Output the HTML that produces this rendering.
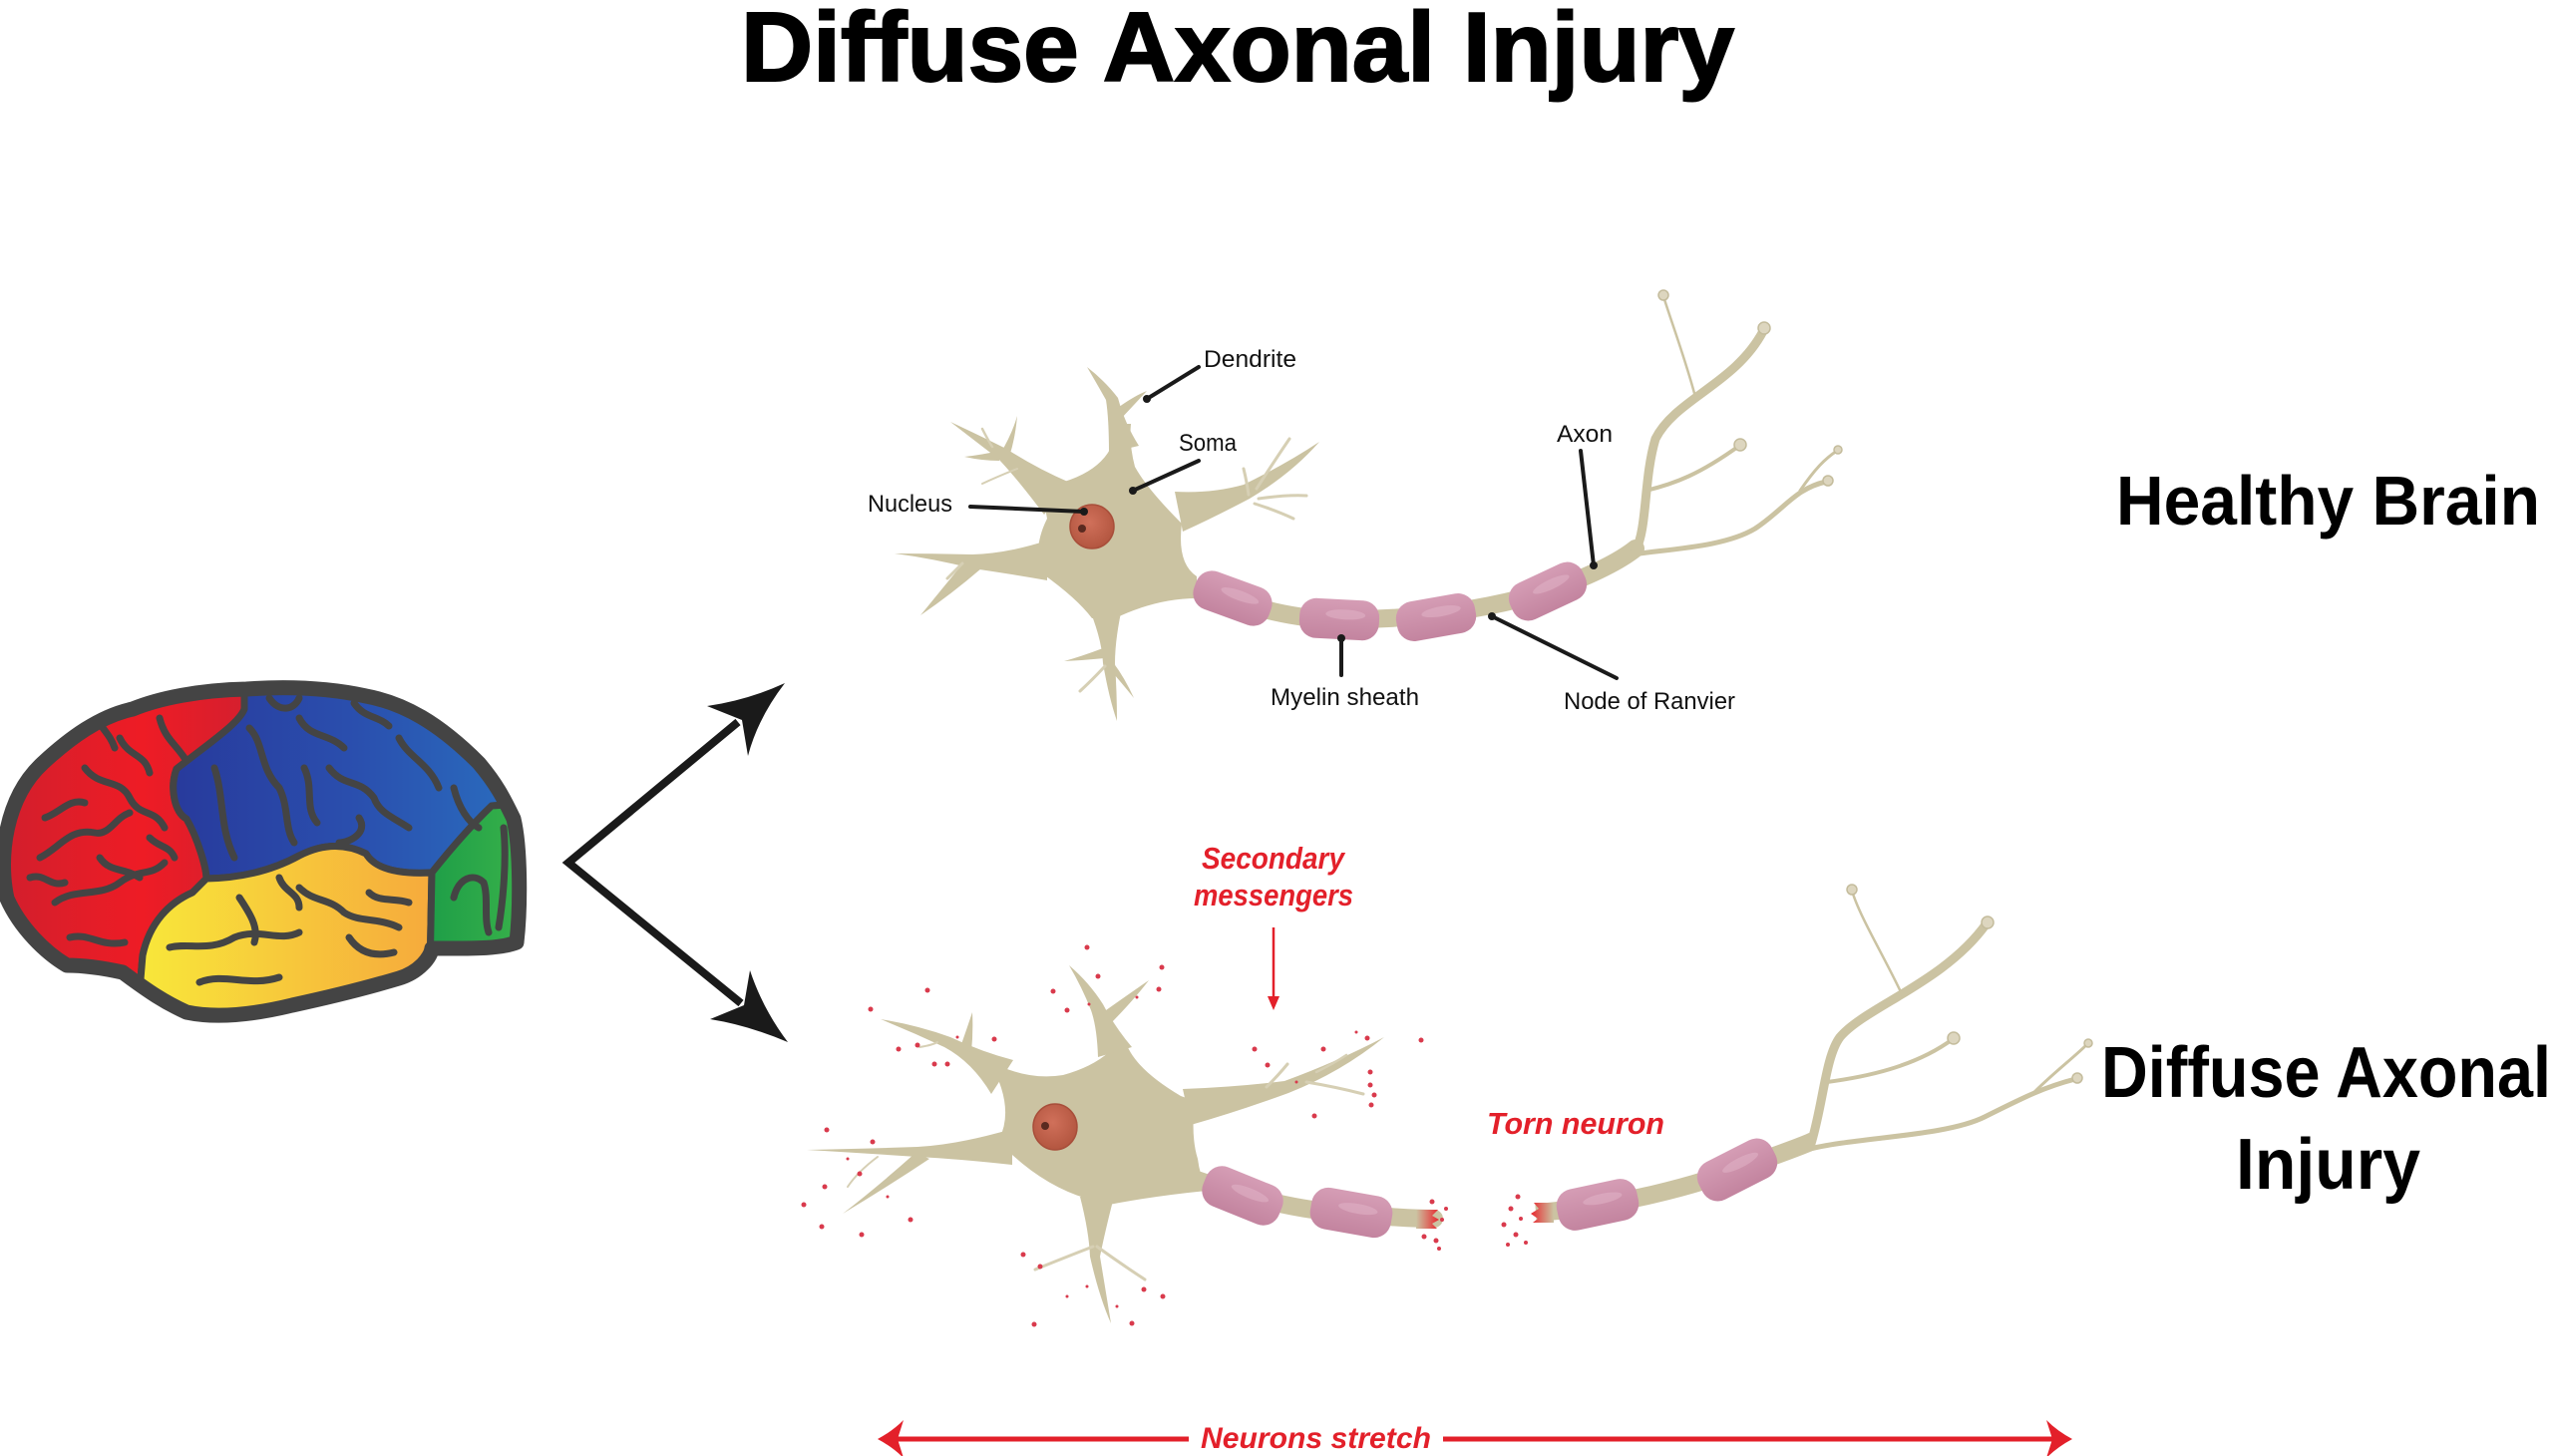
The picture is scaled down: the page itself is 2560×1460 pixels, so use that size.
<!DOCTYPE html>
<html><head><meta charset="utf-8"><style>
html,body{margin:0;padding:0;background:#fff;}
svg{display:block;}
text{font-family:"Liberation Sans",Arial,sans-serif;}
</style></head><body>
<svg width="2560" height="1460" viewBox="0 0 2560 1460" xmlns="http://www.w3.org/2000/svg">
<defs>
<linearGradient id="gRed" x1="0" y1="0" x2="1" y2="0"><stop offset="0" stop-color="#cf1f2d"/><stop offset="0.6" stop-color="#ee1c25"/><stop offset="1" stop-color="#d51f2e"/></linearGradient>
<linearGradient id="gBlue" x1="0" y1="0" x2="1" y2="0"><stop offset="0" stop-color="#283a9c"/><stop offset="0.5" stop-color="#2a4fae"/><stop offset="1" stop-color="#2a70c0"/></linearGradient>
<linearGradient id="gYel" x1="0" y1="0" x2="1" y2="0"><stop offset="0" stop-color="#f8e83a"/><stop offset="1" stop-color="#f6aa3c"/></linearGradient>
<linearGradient id="gGrn" x1="0" y1="0" x2="1" y2="0"><stop offset="0" stop-color="#1e9e48"/><stop offset="1" stop-color="#3cb44a"/></linearGradient>
<linearGradient id="gMy" x1="0" y1="0" x2="0" y2="1"><stop offset="0" stop-color="#d59db5"/><stop offset="1" stop-color="#c3849f"/></linearGradient>
<radialGradient id="gNuc" cx="0.45" cy="0.4" r="0.6"><stop offset="0" stop-color="#d0705a"/><stop offset="1" stop-color="#b35640"/></radialGradient>
<linearGradient id="gTearL" x1="0" y1="0" x2="1" y2="0"><stop offset="0" stop-color="#cbc3a2"/><stop offset="1" stop-color="#e8252d"/></linearGradient>
<linearGradient id="gTearR" x1="1" y1="0" x2="0" y2="0"><stop offset="0" stop-color="#cbc3a2"/><stop offset="1" stop-color="#e8252d"/></linearGradient>
<clipPath id="brainClip"><path d="M 7,901 C -2,860 5,800 43,765 C 70,740 100,718 133,711 C 160,700 200,692 247,691 C 290,688 330,690 367,698 C 405,705 440,725 480,765 C 497,785 505,800 515,821 C 522,850 522,910 518,945 C 500,952 470,951 433,951 C 432,960 420,975 400,981 C 370,990 330,1000 293,1008 C 260,1016 220,1022 187,1015 C 165,1005 150,995 123,975 C 100,970 80,968 67,968 C 45,955 20,930 7,901 Z"/></clipPath>
</defs>

<!-- Title -->
<text x="743" y="81" font-size="98" font-weight="bold" fill="#000" stroke="#000" stroke-width="2" textLength="996" lengthAdjust="spacingAndGlyphs">Diffuse Axonal Injury</text>

<!-- Right labels -->
<text x="2122" y="526" font-size="70" font-weight="bold" fill="#000" textLength="425" lengthAdjust="spacingAndGlyphs">Healthy Brain</text>
<text x="2107" y="1100" font-size="72" font-weight="bold" fill="#000" textLength="451" lengthAdjust="spacingAndGlyphs">Diffuse Axonal</text>
<text x="2242" y="1192" font-size="72" font-weight="bold" fill="#000" textLength="185" lengthAdjust="spacingAndGlyphs">Injury</text>

<!-- Brain -->
<g>
<path d="M 7,901 C -2,860 5,800 43,765 C 70,740 100,718 133,711 C 160,700 200,692 247,691 C 290,688 330,690 367,698 C 405,705 440,725 480,765 C 497,785 505,800 515,821 C 522,850 522,910 518,945 C 500,952 470,951 433,951 C 432,960 420,975 400,981 C 370,990 330,1000 293,1008 C 260,1016 220,1022 187,1015 C 165,1005 150,995 123,975 C 100,970 80,968 67,968 C 45,955 20,930 7,901 Z" fill="#444"/>
<g clip-path="url(#brainClip)" stroke="#444" stroke-width="7" stroke-linejoin="round">
<path d="M -10,680 L 245,680 L 245,711 C 240,725 210,745 177,771 C 170,790 175,815 187,821 C 198,840 207,870 207,881 L 193,895 C 170,905 150,925 143,958 L 137,1030 L -10,1030 Z" fill="url(#gRed)"/>
<path d="M 245,680 L 540,680 L 540,805 L 493,808 C 470,830 445,860 433,875 Q 380,878 367,856 Q 335,840 300,858 Q 260,880 207,881 C 207,870 198,840 187,821 C 175,815 170,790 177,771 C 210,745 240,725 245,711 Z" fill="url(#gBlue)"/>
<path d="M 193,895 L 207,881 Q 260,880 300,858 Q 335,840 367,856 Q 380,878 433,875 L 430,1030 L 137,1030 L 143,958 C 150,925 170,905 193,895 Z" fill="url(#gYel)"/>
<path d="M 493,808 L 540,805 L 540,1030 L 430,1030 L 433,875 C 445,860 470,830 493,808 Z" fill="url(#gGrn)"/>
<g fill="none" stroke-width="7" stroke-linecap="round">
<path d="M 40,860 C 60,850 70,830 95,835 C 110,838 115,820 130,815"/>
<path d="M 55,905 C 75,890 100,900 120,885 C 140,870 150,880 165,865"/>
<path d="M 85,770 C 100,790 120,780 130,800 C 140,820 155,810 165,830"/>
<path d="M 120,740 C 130,760 145,755 150,775"/>
<path d="M 45,820 C 60,815 70,800 85,805"/>
<path d="M 70,940 C 90,935 100,950 125,945"/>
<path d="M 160,720 C 165,740 175,745 185,760"/>
<path d="M 100,860 C 110,875 125,870 140,880"/>
<path d="M 30,880 C 45,875 50,890 65,885"/>
<path d="M 150,840 C 160,850 170,848 175,860"/>
<path d="M 95,715 C 100,730 110,735 115,750"/>
<path d="M 215,770 C 225,800 220,830 235,860"/>
<path d="M 250,730 C 265,745 260,770 280,790 C 290,810 285,830 295,845"/>
<path d="M 300,720 C 310,740 330,735 345,750"/>
<path d="M 330,770 C 345,790 360,780 375,800 C 380,815 395,820 410,830"/>
<path d="M 400,740 C 410,760 430,765 440,790"/>
<path d="M 360,820 C 370,835 350,845 340,845"/>
<path d="M 455,790 C 460,810 470,825 480,830"/>
<path d="M 270,700 C 280,715 295,712 300,700"/>
<path d="M 355,705 C 365,720 380,718 390,728"/>
<path d="M 305,770 C 315,790 305,810 318,825"/>
<path d="M 170,950 C 190,945 210,955 235,940 C 260,930 280,945 300,935"/>
<path d="M 240,900 C 250,915 260,930 255,945"/>
<path d="M 300,890 C 315,905 330,900 345,915 C 360,925 380,920 400,930"/>
<path d="M 200,985 C 225,975 250,990 280,980"/>
<path d="M 350,940 C 360,955 375,960 395,955"/>
<path d="M 280,880 C 285,895 300,895 300,910"/>
<path d="M 370,895 C 380,905 395,900 410,905"/>
<path d="M 455,900 C 460,880 475,875 485,885 C 490,900 485,920 490,935"/>
<path d="M 505,830 C 508,860 505,900 500,930"/>
</g>
</g>
<path d="M 7,901 C -2,860 5,800 43,765 C 70,740 100,718 133,711 C 160,700 200,692 247,691 C 290,688 330,690 367,698 C 405,705 440,725 480,765 C 497,785 505,800 515,821 C 522,850 522,910 518,945 C 500,952 470,951 433,951 C 432,960 420,975 400,981 C 370,990 330,1000 293,1008 C 260,1016 220,1022 187,1015 C 165,1005 150,995 123,975 C 100,970 80,968 67,968 C 45,955 20,930 7,901 Z" fill="none" stroke="#444" stroke-width="15" stroke-linejoin="round"/>
</g>

<!-- Branch arrows -->
<polyline points="740,724 570,865 743,1006" fill="none" stroke="#1a1a1a" stroke-width="8" stroke-linejoin="miter"/>
<path d="M 787,685 Q 760,720 750,758 L 744,722 L 709,708 Q 750,702 787,685 Z" fill="#1a1a1a"/>
<path d="M 790,1045 Q 750,1028 712,1022 L 746,1008 L 752,973 Q 765,1012 790,1045 Z" fill="#1a1a1a"/>

<!-- ============ TOP NEURON ============ -->
<g fill="#cbc3a2">
<path d="M 1120,425 Q 1118,470 1060,485 Q 1045,500 1050,520 Q 1035,550 1045,575 Q 1080,600 1095,620 L 1118,620 Q 1160,600 1200,600 L 1200,578 Q 1180,565 1185,525 Q 1150,490 1138,468 Q 1132,445 1134,425 Z"/>
<path d="M 1112,454 Q 1112,420 1109,401 Q 1100,385 1090,368 Q 1108,382 1121,399 Q 1128,425 1142,447 Z"/>
<path d="M 1114,414 Q 1135,398 1150,392 Q 1138,405 1122,422 Z"/>
<path d="M 1047,516 Q 1020,480 1001,460 Q 975,440 953,423 Q 985,438 1009,450 Q 1040,470 1073,484 Z"/>
<path d="M 1003,455 Q 1015,435 1020,417 Q 1018,440 1012,458 Z"/>
<path d="M 1002,452 Q 985,456 967,458 Q 985,462 1002,462 Z"/>
<path d="M 1050,542 Q 1010,555 975,556 Q 935,555 897,555 Q 935,560 975,570 Q 1010,575 1050,582 Z"/>
<path d="M 968,562 Q 945,590 923,617 Q 955,595 984,570 Z"/>
<path d="M 1090,605 Q 1105,640 1106,665 Q 1112,700 1120,723 Q 1120,695 1118,665 Q 1118,640 1126,605 Z"/>
<path d="M 1106,650 Q 1085,658 1067,663 Q 1088,662 1108,660 Z"/>
<path d="M 1110,668 Q 1125,685 1137,700 Q 1128,680 1116,664 Z"/>
<path d="M 1178,493 Q 1215,495 1247,486 Q 1290,465 1323,443 Q 1295,475 1253,500 Q 1215,520 1186,533 Z"/>
</g>
<g fill="none" stroke="#d6cfb4" stroke-linecap="round">
<path d="M 995,448 Q 990,440 985,430" stroke-width="2.5"/>
<path d="M 965,565 Q 958,572 950,580" stroke-width="3"/>
<path d="M 1108,668 Q 1095,682 1083,693" stroke-width="3"/>
<path d="M 1260,490 Q 1278,462 1293,440" stroke-width="3"/>
<path d="M 1252,496 Q 1250,482 1247,470" stroke-width="3"/>
<path d="M 1262,500 Q 1290,496 1310,497" stroke-width="3"/>
<path d="M 1258,505 Q 1280,512 1297,520" stroke-width="3"/>
<path d="M 1020,470 Q 1000,478 985,485" stroke-width="2"/>
</g>
<!-- top axon -->
<g fill="none" stroke="#cbc3a2" stroke-linecap="round">
<path d="M 1195,590 C 1260,610 1300,622 1345,621 C 1420,622 1500,610 1560,590 C 1600,575 1625,562 1640,550" stroke-width="18"/>
<path d="M 1640,552 C 1652,530 1648,480 1660,440 C 1680,400 1740,385 1768,332" stroke-width="9"/>
<path d="M 1700,398 C 1690,360 1675,320 1668,297" stroke-width="2.5"/>
<path d="M 1650,492 C 1680,485 1705,475 1744,447" stroke-width="4"/>
<path d="M 1636,556 C 1680,550 1730,548 1760,530 C 1790,510 1800,490 1831,483" stroke-width="5"/>
<path d="M 1805,492 C 1820,470 1830,460 1842,452" stroke-width="3"/>
</g>
<g fill="#ddd6bf" stroke="#c4bc9c" stroke-width="1.5">
<circle cx="1668" cy="296" r="5"/><circle cx="1769" cy="329" r="6"/><circle cx="1745" cy="446" r="6"/><circle cx="1833" cy="482" r="5"/><circle cx="1843" cy="451" r="4"/>
</g>
<!-- top myelin -->
<g transform="translate(1236,600) rotate(20)"><rect x="-40" y="-20" width="80" height="40" rx="17" fill="url(#gMy)"/><ellipse cx="6" cy="-5" rx="20" ry="5" fill="#dfb0c5" opacity="0.6"/></g>
<g transform="translate(1343,621) rotate(3)"><rect x="-40" y="-20" width="80" height="40" rx="17" fill="url(#gMy)"/><ellipse cx="6" cy="-5" rx="20" ry="5" fill="#dfb0c5" opacity="0.6"/></g>
<g transform="translate(1440,619) rotate(-10)"><rect x="-40" y="-20" width="80" height="40" rx="17" fill="url(#gMy)"/><ellipse cx="6" cy="-5" rx="20" ry="5" fill="#dfb0c5" opacity="0.6"/></g>
<g transform="translate(1552,593) rotate(-25)"><rect x="-40" y="-20" width="80" height="40" rx="17" fill="url(#gMy)"/><ellipse cx="6" cy="-5" rx="20" ry="5" fill="#dfb0c5" opacity="0.6"/></g>
<!-- nucleus -->
<circle cx="1095" cy="528" r="22" fill="url(#gNuc)" stroke="#a84e3a" stroke-width="1.5"/>
<circle cx="1085" cy="530" r="4" fill="#5a2a20"/>
<!-- label leaders -->
<g stroke="#1a1a1a" stroke-width="4" stroke-linecap="round" fill="none">
<line x1="1202" y1="368" x2="1150" y2="400"/>
<line x1="1202" y1="462" x2="1136" y2="492"/>
<line x1="973" y1="508" x2="1087" y2="513"/>
<line x1="1585" y1="452" x2="1598" y2="567"/>
<line x1="1345" y1="640" x2="1345" y2="677"/>
<line x1="1496" y1="618" x2="1621" y2="680"/>
</g>
<g fill="#1a1a1a">
<circle cx="1150" cy="400" r="4"/><circle cx="1136" cy="492" r="4"/><circle cx="1087" cy="513" r="4"/><circle cx="1598" cy="567" r="4"/><circle cx="1345" cy="640" r="4"/><circle cx="1496" cy="618" r="4"/>
</g>
<g font-size="24" fill="#111">
<text x="1207" y="368" textLength="93" lengthAdjust="spacingAndGlyphs">Dendrite</text>
<text x="1182" y="452" textLength="58" lengthAdjust="spacingAndGlyphs">Soma</text>
<text x="870" y="513" textLength="85" lengthAdjust="spacingAndGlyphs">Nucleus</text>
<text x="1561" y="443" textLength="56" lengthAdjust="spacingAndGlyphs">Axon</text>
<text x="1274" y="707" textLength="149" lengthAdjust="spacingAndGlyphs">Myelin sheath</text>
<text x="1568" y="711" textLength="172" lengthAdjust="spacingAndGlyphs">Node of Ranvier</text>
</g>

<!-- ============ BOTTOM NEURON ============ -->
<g fill="#cbc3a2">
<path d="M 992,1064 Q 1030,1084 1066,1078 Q 1095,1070 1112,1055 L 1128,1042 Q 1135,1070 1184,1099 L 1198,1104 Q 1194,1140 1201,1162 Q 1203,1178 1210,1194 Q 1150,1200 1102,1210 L 1090,1202 Q 1050,1190 1015,1158 L 1002,1142 Q 1018,1110 992,1064 Z"/>
<path d="M 1101,1060 Q 1100,1030 1094,1013 Q 1085,990 1072,968 Q 1092,985 1106,1007 Q 1118,1030 1135,1050 Z"/>
<path d="M 1102,1018 Q 1130,998 1152,983 Q 1135,1005 1110,1030 Z"/>
<path d="M 994,1097 Q 975,1065 947,1050 Q 915,1035 883,1022 Q 920,1028 953,1040 Q 985,1055 1016,1063 Z"/>
<path d="M 963,1050 Q 970,1030 975,1015 Q 976,1035 974,1055 Z"/>
<path d="M 1186,1092 Q 1240,1090 1288,1084 Q 1340,1065 1388,1040 Q 1345,1075 1292,1096 Q 1240,1115 1194,1128 Z"/>
<path d="M 1015,1132 Q 960,1148 920,1150 Q 860,1152 809,1153 Q 860,1156 920,1160 Q 960,1162 1015,1168 Z"/>
<path d="M 918,1156 Q 880,1190 845,1217 Q 890,1190 932,1162 Z"/>
<path d="M 1083,1200 Q 1092,1235 1093,1260 Q 1102,1300 1114,1327 Q 1108,1290 1103,1260 Q 1108,1235 1117,1200 Z"/>
</g>
<g fill="none" stroke="#d6cfb4" stroke-linecap="round">
<path d="M 1270,1090 Q 1282,1078 1291,1067" stroke-width="3"/>
<path d="M 1310,1085 Q 1340,1090 1367,1097" stroke-width="3"/>
<path d="M 1320,1075 Q 1338,1066 1350,1058" stroke-width="2.5"/>
<path d="M 1096,1250 Q 1065,1262 1038,1273" stroke-width="3"/>
<path d="M 1100,1250 Q 1125,1268 1148,1283" stroke-width="3"/>
<path d="M 940,1045 Q 935,1048 922,1050" stroke-width="2"/>
<path d="M 880,1160 Q 860,1175 850,1190" stroke-width="2"/>
</g>
<g fill="none" stroke="#cbc3a2">
<path d="M 1200,1183 C 1250,1200 1300,1214 1355,1217 C 1390,1220 1415,1222 1438,1222" stroke-width="18" stroke-linecap="round"/>
<path d="M 1540,1216 C 1620,1210 1700,1190 1760,1166 C 1790,1155 1805,1150 1818,1144" stroke-width="18" stroke-linecap="butt"/>
<path d="M 1815,1150 C 1828,1110 1830,1060 1845,1040 C 1870,1010 1950,985 1992,926" stroke-width="9" stroke-linecap="round"/>
<path d="M 1908,999 C 1890,960 1865,920 1857,893" stroke-width="2.5" stroke-linecap="round"/>
<path d="M 1832,1085 C 1870,1080 1920,1070 1958,1042" stroke-width="4" stroke-linecap="round"/>
<path d="M 1811,1153 C 1860,1140 1950,1140 1990,1120 C 2030,1100 2050,1090 2081,1082" stroke-width="5" stroke-linecap="round"/>
<path d="M 2040,1095 C 2060,1075 2080,1060 2093,1047" stroke-width="3" stroke-linecap="round"/>
</g>
<g fill="#ddd6bf" stroke="#c4bc9c" stroke-width="1.5">
<circle cx="1857" cy="892" r="5"/><circle cx="1993" cy="925" r="6"/><circle cx="1959" cy="1041" r="6"/><circle cx="2083" cy="1081" r="5"/><circle cx="2094" cy="1046" r="4"/>
</g>
<!-- torn ends -->
<path d="M 1420,1213 L 1442,1213 L 1436,1219 L 1443,1223 L 1436,1227 L 1441,1232 L 1420,1232 Z" fill="url(#gTearL)"/>
<path d="M 1558,1206 L 1538,1206 L 1543,1212 L 1535,1217 L 1542,1222 L 1537,1226 L 1558,1226 Z" fill="url(#gTearR)"/>
<!-- bottom myelin -->
<g transform="translate(1246,1199) rotate(22)"><rect x="-41" y="-21" width="82" height="42" rx="17" fill="url(#gMy)"/><ellipse cx="6" cy="-5" rx="20" ry="5" fill="#dfb0c5" opacity="0.6"/></g>
<g transform="translate(1355,1216) rotate(10)"><rect x="-41" y="-21" width="82" height="42" rx="17" fill="url(#gMy)"/><ellipse cx="6" cy="-5" rx="20" ry="5" fill="#dfb0c5" opacity="0.6"/></g>
<g transform="translate(1602,1208) rotate(-12)"><rect x="-41" y="-21" width="82" height="42" rx="17" fill="url(#gMy)"/><ellipse cx="6" cy="-5" rx="20" ry="5" fill="#dfb0c5" opacity="0.6"/></g>
<g transform="translate(1742,1173) rotate(-27)"><rect x="-41" y="-21" width="82" height="42" rx="17" fill="url(#gMy)"/><ellipse cx="6" cy="-5" rx="20" ry="5" fill="#dfb0c5" opacity="0.6"/></g>
<ellipse cx="1058" cy="1130" rx="22" ry="23" fill="url(#gNuc)" stroke="#a84e3a" stroke-width="1.5"/>
<circle cx="1048" cy="1129" r="4" fill="#5a2a20"/>

<!-- red dots -->
<g fill="#d93a4c">
<circle cx="1090" cy="950" r="2.5"/><circle cx="1165" cy="970" r="2.5"/><circle cx="1101" cy="979" r="2.5"/><circle cx="1162" cy="992" r="2.5"/><circle cx="1056" cy="994" r="2.5"/><circle cx="930" cy="993" r="2.5"/><circle cx="1070" cy="1013" r="2.5"/><circle cx="873" cy="1012" r="2.5"/><circle cx="997" cy="1042" r="2.5"/><circle cx="920" cy="1048" r="2.5"/><circle cx="901" cy="1052" r="2.5"/><circle cx="937" cy="1067" r="2.5"/><circle cx="950" cy="1067" r="2.5"/><circle cx="1258" cy="1052" r="2.5"/><circle cx="1271" cy="1068" r="2.5"/><circle cx="1327" cy="1052" r="2.5"/><circle cx="1371" cy="1041" r="2.5"/><circle cx="1425" cy="1043" r="2.5"/><circle cx="1374" cy="1075" r="2.5"/><circle cx="1374" cy="1088" r="2.5"/><circle cx="1378" cy="1098" r="2.5"/><circle cx="1375" cy="1108" r="2.5"/><circle cx="1318" cy="1119" r="2.5"/><circle cx="829" cy="1133" r="2.5"/><circle cx="875" cy="1145" r="2.5"/><circle cx="862" cy="1177" r="2.5"/><circle cx="827" cy="1190" r="2.5"/><circle cx="806" cy="1208" r="2.5"/><circle cx="913" cy="1223" r="2.5"/><circle cx="824" cy="1230" r="2.5"/><circle cx="864" cy="1238" r="2.5"/><circle cx="1026" cy="1258" r="2.5"/><circle cx="1043" cy="1270" r="2.5"/><circle cx="1147" cy="1293" r="2.5"/><circle cx="1166" cy="1300" r="2.5"/><circle cx="1037" cy="1328" r="2.5"/><circle cx="1135" cy="1327" r="2.5"/><circle cx="1436" cy="1205" r="2.5"/><circle cx="1446" cy="1223" r="2"/><circle cx="1428" cy="1240" r="2.5"/><circle cx="1440" cy="1244" r="2.5"/><circle cx="1443" cy="1252" r="2"/><circle cx="1450" cy="1212" r="2"/><circle cx="1522" cy="1200" r="2.5"/><circle cx="1515" cy="1212" r="2.5"/><circle cx="1525" cy="1222" r="2"/><circle cx="1508" cy="1228" r="2.5"/><circle cx="1520" cy="1238" r="2.5"/><circle cx="1530" cy="1246" r="2"/><circle cx="1512" cy="1248" r="2"/><circle cx="1092" cy="1007" r="1.5"/><circle cx="1140" cy="1000" r="1.5"/><circle cx="960" cy="1040" r="1.5"/><circle cx="1300" cy="1085" r="1.5"/><circle cx="1360" cy="1035" r="1.5"/><circle cx="850" cy="1162" r="1.5"/><circle cx="890" cy="1200" r="1.5"/><circle cx="1070" cy="1300" r="1.5"/><circle cx="1120" cy="1310" r="1.5"/><circle cx="1090" cy="1290" r="1.5"/>
</g>

<!-- red annotations -->
<g fill="#e3202a" font-weight="bold" font-style="italic" font-size="31">
<text x="1205" y="871" textLength="143" lengthAdjust="spacingAndGlyphs">Secondary</text>
<text x="1197" y="908" textLength="160" lengthAdjust="spacingAndGlyphs">messengers</text>
<text x="1491" y="1137" textLength="178" lengthAdjust="spacingAndGlyphs">Torn neuron</text>
<text x="1204" y="1452" font-size="30" textLength="231" lengthAdjust="spacingAndGlyphs">Neurons stretch</text>
</g>
<line x1="1277" y1="930" x2="1277" y2="1002" stroke="#e3202a" stroke-width="2.5"/>
<path d="M 1271,999 L 1283,999 L 1277,1013 Z" fill="#e3202a"/>
<!-- stretch arrow -->
<g stroke="#e3202a" stroke-width="5">
<line x1="895" y1="1443" x2="1192" y2="1443"/>
<line x1="1447" y1="1443" x2="2062" y2="1443"/>
</g>
<path d="M 880,1443 Q 895,1435 906,1424 L 900,1443 L 906,1462 Q 895,1451 880,1443 Z" fill="#e3202a"/>
<path d="M 2078,1443 Q 2063,1435 2052,1424 L 2058,1443 L 2052,1462 Q 2063,1451 2078,1443 Z" fill="#e3202a"/>
</svg>
</body></html>
